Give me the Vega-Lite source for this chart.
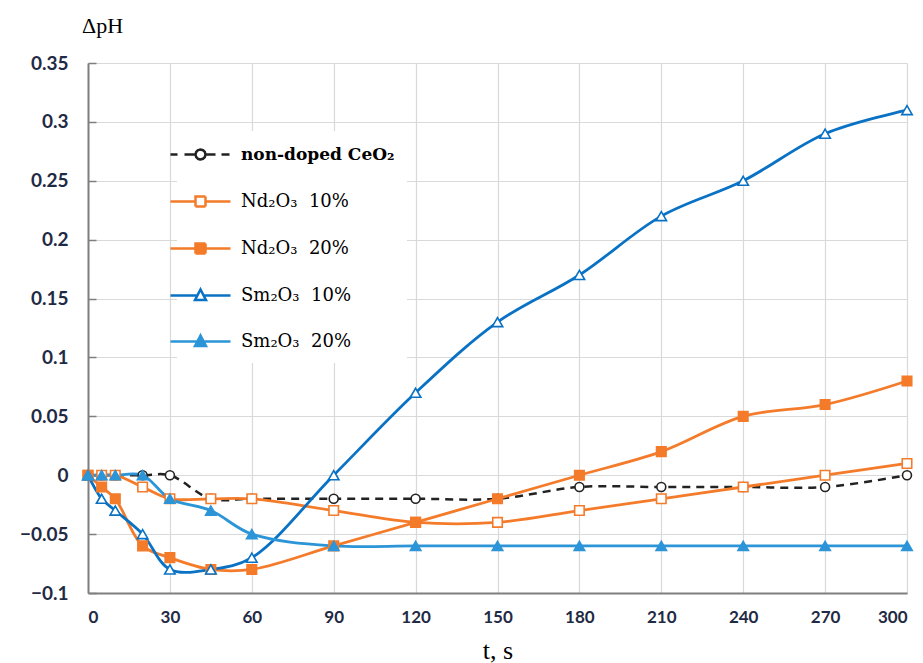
{
  "$schema": "https://vega.github.io/schema/vega-lite/v6.json",
  "autosize": {"type": "none"},
  "padding": {"top": 63, "left": 88, "right": 16, "bottom": 70},
  "width": 819,
  "height": 530,
  "background": "white",
  "config": {"view": {"stroke": null}},
  "data": {"values": [
    {"t": 0, "dpH": 0, "series": "non-doped CeO₂"},
    {"t": 5, "dpH": 0, "series": "non-doped CeO₂"},
    {"t": 10, "dpH": 0, "series": "non-doped CeO₂"},
    {"t": 20, "dpH": 0, "series": "non-doped CeO₂"},
    {"t": 30, "dpH": 0, "series": "non-doped CeO₂"},
    {"t": 45, "dpH": -0.02, "series": "non-doped CeO₂"},
    {"t": 60, "dpH": -0.02, "series": "non-doped CeO₂"},
    {"t": 90, "dpH": -0.02, "series": "non-doped CeO₂"},
    {"t": 120, "dpH": -0.02, "series": "non-doped CeO₂"},
    {"t": 150, "dpH": -0.02, "series": "non-doped CeO₂"},
    {"t": 180, "dpH": -0.01, "series": "non-doped CeO₂"},
    {"t": 210, "dpH": -0.01, "series": "non-doped CeO₂"},
    {"t": 240, "dpH": -0.01, "series": "non-doped CeO₂"},
    {"t": 270, "dpH": -0.01, "series": "non-doped CeO₂"},
    {"t": 300, "dpH": 0, "series": "non-doped CeO₂"},

    {"t": 0, "dpH": 0, "series": "Nd₂O₃\u00a0\u00a010%"},
    {"t": 5, "dpH": 0, "series": "Nd₂O₃\u00a0\u00a010%"},
    {"t": 10, "dpH": 0, "series": "Nd₂O₃\u00a0\u00a010%"},
    {"t": 20, "dpH": -0.01, "series": "Nd₂O₃\u00a0\u00a010%"},
    {"t": 30, "dpH": -0.02, "series": "Nd₂O₃\u00a0\u00a010%"},
    {"t": 45, "dpH": -0.02, "series": "Nd₂O₃\u00a0\u00a010%"},
    {"t": 60, "dpH": -0.02, "series": "Nd₂O₃\u00a0\u00a010%"},
    {"t": 90, "dpH": -0.03, "series": "Nd₂O₃\u00a0\u00a010%"},
    {"t": 120, "dpH": -0.04, "series": "Nd₂O₃\u00a0\u00a010%"},
    {"t": 150, "dpH": -0.04, "series": "Nd₂O₃\u00a0\u00a010%"},
    {"t": 180, "dpH": -0.03, "series": "Nd₂O₃\u00a0\u00a010%"},
    {"t": 210, "dpH": -0.02, "series": "Nd₂O₃\u00a0\u00a010%"},
    {"t": 240, "dpH": -0.01, "series": "Nd₂O₃\u00a0\u00a010%"},
    {"t": 270, "dpH": 0, "series": "Nd₂O₃\u00a0\u00a010%"},
    {"t": 300, "dpH": 0.01, "series": "Nd₂O₃\u00a0\u00a010%"},

    {"t": 0, "dpH": 0, "series": "Nd₂O₃\u00a0\u00a020%"},
    {"t": 5, "dpH": -0.01, "series": "Nd₂O₃\u00a0\u00a020%"},
    {"t": 10, "dpH": -0.02, "series": "Nd₂O₃\u00a0\u00a020%"},
    {"t": 20, "dpH": -0.06, "series": "Nd₂O₃\u00a0\u00a020%"},
    {"t": 30, "dpH": -0.07, "series": "Nd₂O₃\u00a0\u00a020%"},
    {"t": 45, "dpH": -0.08, "series": "Nd₂O₃\u00a0\u00a020%"},
    {"t": 60, "dpH": -0.08, "series": "Nd₂O₃\u00a0\u00a020%"},
    {"t": 90, "dpH": -0.06, "series": "Nd₂O₃\u00a0\u00a020%"},
    {"t": 120, "dpH": -0.04, "series": "Nd₂O₃\u00a0\u00a020%"},
    {"t": 150, "dpH": -0.02, "series": "Nd₂O₃\u00a0\u00a020%"},
    {"t": 180, "dpH": 0, "series": "Nd₂O₃\u00a0\u00a020%"},
    {"t": 210, "dpH": 0.02, "series": "Nd₂O₃\u00a0\u00a020%"},
    {"t": 240, "dpH": 0.05, "series": "Nd₂O₃\u00a0\u00a020%"},
    {"t": 270, "dpH": 0.06, "series": "Nd₂O₃\u00a0\u00a020%"},
    {"t": 300, "dpH": 0.08, "series": "Nd₂O₃\u00a0\u00a020%"},

    {"t": 0, "dpH": 0, "series": "Sm₂O₃\u00a0\u00a010%"},
    {"t": 5, "dpH": -0.02, "series": "Sm₂O₃\u00a0\u00a010%"},
    {"t": 10, "dpH": -0.03, "series": "Sm₂O₃\u00a0\u00a010%"},
    {"t": 20, "dpH": -0.05, "series": "Sm₂O₃\u00a0\u00a010%"},
    {"t": 30, "dpH": -0.08, "series": "Sm₂O₃\u00a0\u00a010%"},
    {"t": 45, "dpH": -0.08, "series": "Sm₂O₃\u00a0\u00a010%"},
    {"t": 60, "dpH": -0.07, "series": "Sm₂O₃\u00a0\u00a010%"},
    {"t": 90, "dpH": 0, "series": "Sm₂O₃\u00a0\u00a010%"},
    {"t": 120, "dpH": 0.07, "series": "Sm₂O₃\u00a0\u00a010%"},
    {"t": 150, "dpH": 0.13, "series": "Sm₂O₃\u00a0\u00a010%"},
    {"t": 180, "dpH": 0.17, "series": "Sm₂O₃\u00a0\u00a010%"},
    {"t": 210, "dpH": 0.22, "series": "Sm₂O₃\u00a0\u00a010%"},
    {"t": 240, "dpH": 0.25, "series": "Sm₂O₃\u00a0\u00a010%"},
    {"t": 270, "dpH": 0.29, "series": "Sm₂O₃\u00a0\u00a010%"},
    {"t": 300, "dpH": 0.31, "series": "Sm₂O₃\u00a0\u00a010%"},

    {"t": 0, "dpH": 0, "series": "Sm₂O₃\u00a0\u00a020%"},
    {"t": 5, "dpH": 0, "series": "Sm₂O₃\u00a0\u00a020%"},
    {"t": 10, "dpH": 0, "series": "Sm₂O₃\u00a0\u00a020%"},
    {"t": 20, "dpH": 0, "series": "Sm₂O₃\u00a0\u00a020%"},
    {"t": 30, "dpH": -0.02, "series": "Sm₂O₃\u00a0\u00a020%"},
    {"t": 45, "dpH": -0.03, "series": "Sm₂O₃\u00a0\u00a020%"},
    {"t": 60, "dpH": -0.05, "series": "Sm₂O₃\u00a0\u00a020%"},
    {"t": 90, "dpH": -0.06, "series": "Sm₂O₃\u00a0\u00a020%"},
    {"t": 120, "dpH": -0.06, "series": "Sm₂O₃\u00a0\u00a020%"},
    {"t": 150, "dpH": -0.06, "series": "Sm₂O₃\u00a0\u00a020%"},
    {"t": 180, "dpH": -0.06, "series": "Sm₂O₃\u00a0\u00a020%"},
    {"t": 210, "dpH": -0.06, "series": "Sm₂O₃\u00a0\u00a020%"},
    {"t": 240, "dpH": -0.06, "series": "Sm₂O₃\u00a0\u00a020%"},
    {"t": 270, "dpH": -0.06, "series": "Sm₂O₃\u00a0\u00a020%"},
    {"t": 300, "dpH": -0.06, "series": "Sm₂O₃\u00a0\u00a020%"}
  ]},
  "encoding": {
    "x": {
      "field": "t", "type": "quantitative",
      "scale": {"domain": [0, 300], "nice": false},
      "axis": {
        "values": [0, 30, 60, 90, 120, 150, 180, 210, 240, 270, 300],
        "title": "t, s",
        "titleFont": "Liberation Serif", "titleFontSize": 26, "titleFontWeight": "normal", "titleColor": "#000000",
        "titleBaseline": "middle", "titleY": 57,
        "labelFont": "Lato", "labelFontSize": 17, "labelFontWeight": "bold", "labelColor": "#1F2A44",
        "labelPadding": 16,
        "ticks": false,
        "domainColor": "#7F7F7F", "domainWidth": 2,
        "gridColor": "#D9D9D9", "gridWidth": 1.2
      }
    },
    "y": {
      "field": "dpH", "type": "quantitative",
      "scale": {"domain": [-0.1, 0.35], "nice": false, "zero": false},
      "axis": {
        "values": [-0.1, -0.05, 0, 0.05, 0.1, 0.15, 0.2, 0.25, 0.3, 0.35],
        "format": "~g",
        "title": "ΔpH",
        "titleFont": "Liberation Serif", "titleFontSize": 22, "titleFontWeight": "normal", "titleColor": "#000000",
        "titleAngle": 0, "titleAlign": "center", "titleBaseline": "middle",
        "titleX": 14, "titleY": -38,
        "labelFont": "Lato", "labelFontSize": 19, "labelFontWeight": "bold", "labelColor": "#1F2A44",
        "ticks": true, "tickSize": -8, "tickColor": "#7F7F7F", "tickWidth": 1.5,
        "labelPadding": 28,
        "domainColor": "#7F7F7F", "domainWidth": 2,
        "gridColor": "#D9D9D9", "gridWidth": 1.2
      }
    }
  },
  "layer": [
    {
      "transform": [{"filter": "datum.series === 'non-doped CeO₂'"}],
      "mark": {"type": "line", "interpolate": "catmull-rom", "strokeWidth": 2.5, "strokeDash": [8, 6]},
      "encoding": {
        "stroke": {
          "field": "series", "type": "nominal",
          "scale": {
            "domain": ["non-doped CeO₂", "Nd₂O₃\u00a0\u00a010%", "Nd₂O₃\u00a0\u00a020%", "Sm₂O₃\u00a0\u00a010%", "Sm₂O₃\u00a0\u00a020%"],
            "range": ["#222222", "#F47B2A", "#F47B2A", "#0A72C4", "#2C95D8"]
          },
          "legend": {
            "orient": "none",
            "legendX": 89,
            "legendY": 68,
            "title": null,
            "fillColor": "white",
            "padding": 12,
            "symbolSize": 400,
            "symbolStrokeWidth": 2.5,
            "labelFont": "DejaVu Serif",
            "labelFontSize": 18,
            "labelLimit": 400,
            "labelColor": "#000000",
            "labelOffset": 29,
            "rowPadding": 25,
            "encode": {
              "symbols": {
                "update": {
                  "shape": {"signal": "['M-3,0H-2.3M-1.6,0H-0.6M0.6,0H1.5M2.1,0H2.9M0.5,0L0.433,0.25L0.25,0.433L0,0.5L-0.25,0.433L-0.433,0.25L-0.5,0L-0.433,-0.25L-0.25,-0.433L0,-0.5L0.25,-0.433L0.433,-0.25Z', 'M-3,0H-0.5M0.5,0H3M-0.5,-0.5H0.5V0.5H-0.5Z', 'M-3,0H-0.5M0.5,0H3M-0.5,-0.5H0.5V0.5H-0.5Z', 'M-3,0H-0.32M0.32,0H3M0,-0.6L0.55,0.45L-0.55,0.45Z', 'M-3,0H-0.32M0.32,0H3M0,-0.6L0.55,0.45L-0.55,0.45Z'][datum.index]"},
                  "fill": {"signal": "['#FFFFFF', '#FFFFFF', '#F47B2A', '#FFFFFF', '#2C95D8'][datum.index]"},
                  "strokeDash": {"value": [1, 0]},
                  "strokeWidth": {"value": 2.5},
                  "opacity": {"value": 1}
                }
              },
              "labels": {
                "update": {
                  "fontWeight": {"signal": "datum.index === 0 ? 'bold' : 'normal'"},
                  "fontSize": {"signal": "datum.index === 0 ? 17 : 18"}
                }
              }
            }
          }
        }
      }
    },
    {
      "transform": [{"filter": "datum.series !== 'non-doped CeO₂'"}],
      "mark": {"type": "line", "interpolate": "catmull-rom", "strokeWidth": 2.8},
      "encoding": {
        "stroke": {"field": "series", "type": "nominal"}
      }
    },
    {
      "transform": [{"filter": "datum.series === 'non-doped CeO₂'"}],
      "mark": {"type": "point", "shape": "circle", "fill": "#FFFFFF", "strokeWidth": 1.6, "opacity": 1, "size": 80},
      "encoding": {"stroke": {"field": "series", "type": "nominal"}}
    },
    {
      "transform": [{"filter": "datum.series === 'Nd₂O₃\u00a0\u00a010%'"}],
      "mark": {"type": "point", "shape": "square", "fill": "#FFFFFF", "strokeWidth": 1.6, "opacity": 1, "size": 90},
      "encoding": {"stroke": {"field": "series", "type": "nominal"}}
    },
    {
      "transform": [{"filter": "datum.series === 'Nd₂O₃\u00a0\u00a020%'"}],
      "mark": {"type": "point", "shape": "square", "fill": "#F47B2A", "strokeWidth": 1.6, "opacity": 1, "size": 90},
      "encoding": {"stroke": {"field": "series", "type": "nominal"}}
    },
    {
      "transform": [{"filter": "datum.series === 'Sm₂O₃\u00a0\u00a010%'"}],
      "mark": {"type": "point", "shape": "triangle-up", "fill": "#FFFFFF", "strokeWidth": 1.6, "opacity": 1, "size": 110},
      "encoding": {"stroke": {"field": "series", "type": "nominal"}}
    },
    {
      "transform": [{"filter": "datum.series === 'Sm₂O₃\u00a0\u00a020%'"}],
      "mark": {"type": "point", "shape": "triangle-up", "fill": "#2C95D8", "strokeWidth": 1.6, "opacity": 1, "size": 110},
      "encoding": {"stroke": {"field": "series", "type": "nominal"}}
    }
  ]
}
